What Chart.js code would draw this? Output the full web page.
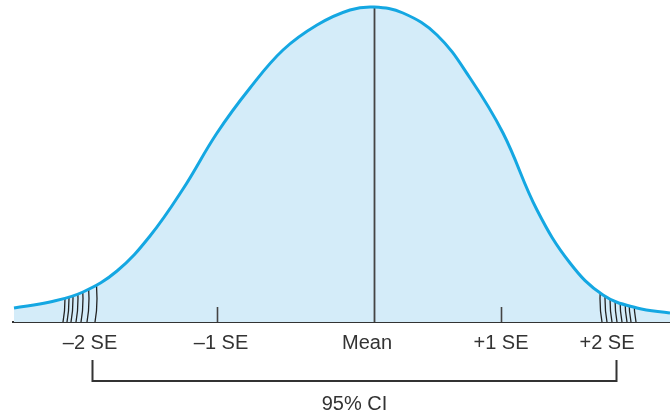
<!DOCTYPE html>
<html>
<head>
<meta charset="utf-8">
<script src="https://cdn.jsdelivr.net/npm/chart.js@4/dist/chart.umd.min.js"></script>
<style>
  body { margin: 0; background: #fff; }
  canvas { display: block; }
</style>
</head>
<body>
<canvas id="seChart" width="670" height="414"></canvas>
<script>
// curve (horizontal units, height above the axis)
const curveX = [1, 37, 70, 104, 137, 170, 204, 237, 270, 304, 337, 361, 390, 424, 457, 490, 524, 557, 590, 624, 657];
const curveY = [14, 20, 30, 51, 86, 133, 189, 234, 272, 297, 312, 315, 309, 287, 244, 189, 112, 59, 27, 14, 9];

// axis labels and where they sit
const tickLabels = ["\u20132 SE", "\u20131 SE", "Mean", "+1 SE", "+2 SE"];
const labelPos = [77, 208, 354, 488, 594];

// marks on the axis
const meanPos = 361;
const seTickPos = [204, 488];
const ciBounds = [79, 603];
const ciLabel = "95% CI";

// hatching in the two tails
const hatchLeft = [50, 54, 58, 63, 68, 74, 82];
const hatchRight = [589, 594, 599, 604, 609, 614, 618, 623];

const ink = '#333333';

const markerPlugin = {
  id: 'markers',
  beforeDatasetDraw(chart) {
    const ctx = chart.ctx;
    const x = chart.scales.x;
    const area = chart.chartArea;
    const line = chart.getDatasetMeta(0).dataset;
    const pts = chart.getDatasetMeta(0).data;

    ctx.save();
    // clip to the region under the curve
    ctx.beginPath();
    line.path(ctx);
    ctx.lineTo(pts[pts.length - 1].x, area.bottom);
    ctx.lineTo(pts[0].x, area.bottom);
    ctx.closePath();
    ctx.clip();

    // mean line
    ctx.strokeStyle = '#444';
    ctx.lineWidth = 1.8;
    ctx.beginPath();
    const mx = Math.round(x.getPixelForValue(meanPos)) + 0.5;
    ctx.moveTo(mx, area.bottom);
    ctx.lineTo(mx, area.top);
    ctx.stroke();

    // tail hatches, bowed toward the middle
    ctx.strokeStyle = '#222';
    ctx.lineWidth = 1.3;
    const hatch = (vals, bow) => {
      vals.forEach(v => {
        const px = x.getPixelForValue(v);
        ctx.beginPath();
        ctx.moveTo(px, area.bottom);
        ctx.quadraticCurveTo(px + bow, area.bottom - 22, px, area.bottom - 50);
        ctx.stroke();
      });
    };
    hatch(hatchLeft, 4);
    hatch(hatchRight, -4);
    ctx.restore();
  },
  afterDraw(chart) {
    const ctx = chart.ctx;
    const x = chart.scales.x;
    const area = chart.chartArea;
    ctx.save();
    ctx.strokeStyle = '#444';
    ctx.lineWidth = 1.6;
    // small ticks at -1 SE and +1 SE
    seTickPos.forEach(v => {
      const px = Math.round(x.getPixelForValue(v)) + 0.5;
      ctx.beginPath();
      ctx.moveTo(px, area.bottom);
      ctx.lineTo(px, area.bottom - 15);
      ctx.stroke();
    });
    // confidence interval bracket
    const l = Math.round(x.getPixelForValue(ciBounds[0])) + 0.5;
    const r = Math.round(x.getPixelForValue(ciBounds[1])) + 0.5;
    const top = area.bottom + 38;
    const bot = area.bottom + 59;
    ctx.strokeStyle = ink;
    ctx.lineWidth = 2;
    ctx.beginPath();
    ctx.moveTo(l, top);
    ctx.lineTo(l, bot);
    ctx.lineTo(r, bot);
    ctx.lineTo(r, top);
    ctx.stroke();
    ctx.fillStyle = ink;
    ctx.font = '20px "Liberation Sans", Arial, sans-serif';
    ctx.textAlign = 'center';
    ctx.textBaseline = 'alphabetic';
    ctx.fillText(ciLabel, (l + r) / 2, area.bottom + 88);
    ctx.restore();
  }
};

new Chart(document.getElementById('seChart'), {
  type: 'line',
  data: {
    datasets: [{
      data: curveX.map((v, i) => ({ x: v, y: curveY[i] })),
      borderColor: '#14a7e2',
      borderWidth: 3,
      backgroundColor: '#d4ecf9',
      fill: 'origin',
      pointRadius: 0,
      tension: 0.4
    }]
  },
  options: {
    responsive: false,
    animation: false,
    devicePixelRatio: 1,
    layout: { padding: { left: 13, right: 0, top: 0, bottom: 0 } },
    plugins: { legend: { display: false }, tooltip: { enabled: false } },
    scales: {
      x: {
        type: 'linear',
        min: 0,
        max: 657,
        afterBuildTicks: s => { s.ticks = labelPos.map(v => ({ value: v })); },
        afterFit: s => { s.height = 92; },
        grid: { display: false, drawTicks: false },
        border: { display: true, color: '#333', width: 2 },
        ticks: {
          autoSkip: false,
          maxRotation: 0,
          padding: 9,
          color: ink,
          font: { family: '"Liberation Sans", Arial, sans-serif', size: 20 },
          callback: (v, i) => tickLabels[i]
        }
      },
      y: {
        display: false,
        min: 0,
        max: 322
      }
    }
  },
  plugins: [markerPlugin]
});
</script>
</body>
</html>
